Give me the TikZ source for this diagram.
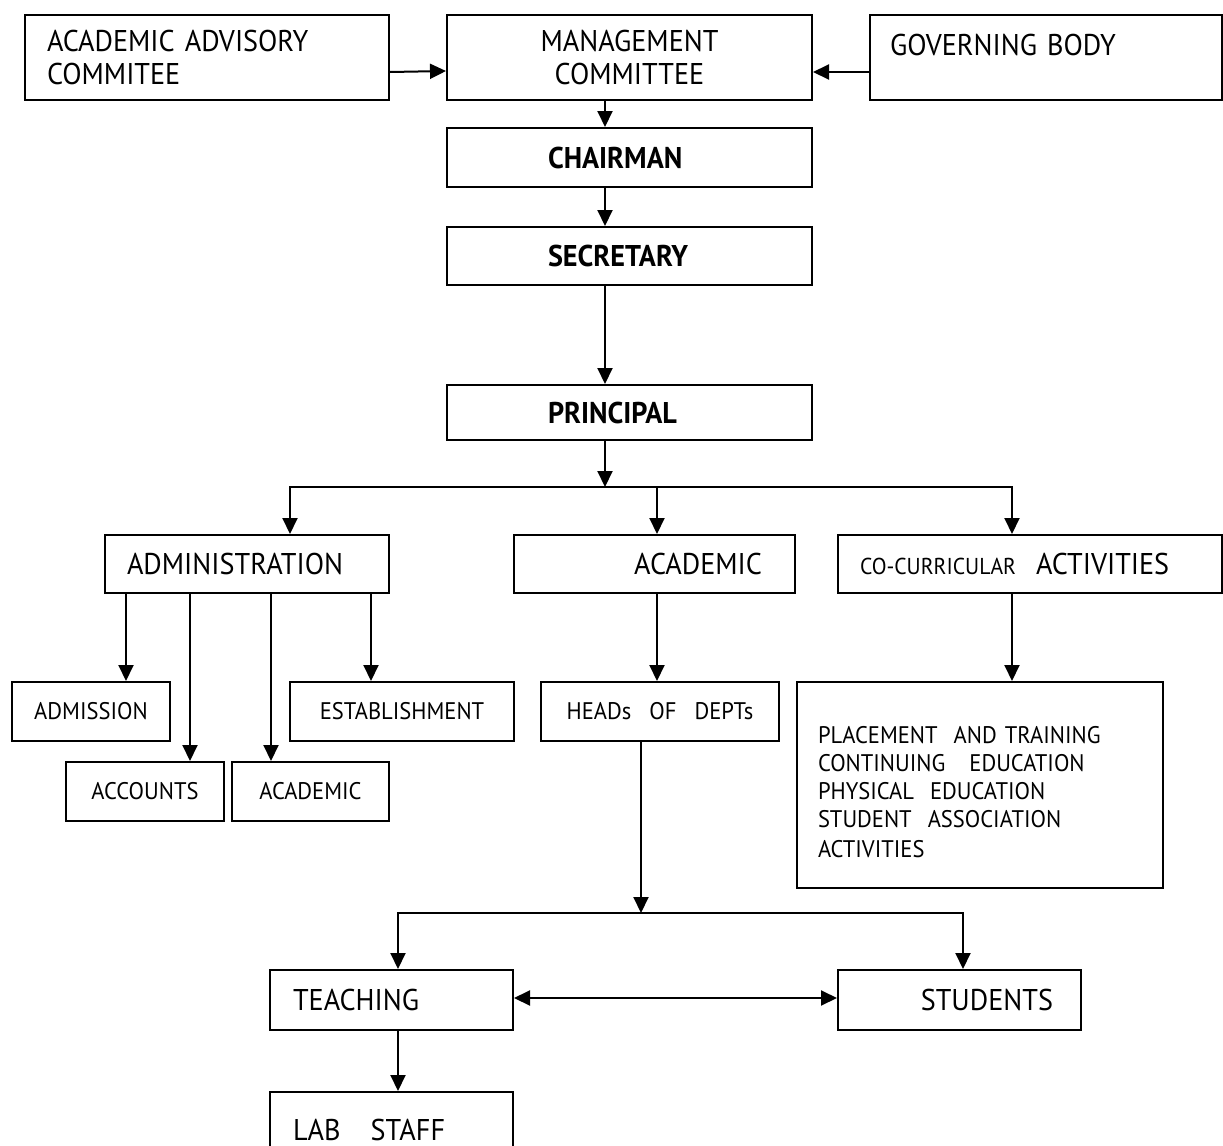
\documentclass[tikz,border=0pt]{standalone}
\usepackage{fontspec}
\setmainfont{PT Sans}[FakeStretch=0.94]
\usetikzlibrary{arrows.meta}

\begin{document}
\begin{tikzpicture}[x=0.5pt,y=-0.5pt]
\tikzset{
	box/.style={draw=black, line width=1pt, inner xsep=0pt, inner ysep=0pt, font=\fontsize{15}{16.5}\selectfont},
	bbox/.style={box, minimum width=182.5pt, inner xsep=50.5pt, text width=81.5pt, align=left, font=\fontsize{15}{16.5}\selectfont\bfseries},
	sbox/.style={box, align=center, font=\fontsize{12}{14}\selectfont},
	arr/.style={line width=1pt, -{Triangle[length=8pt,width=7.5pt]}},
	dbl/.style={line width=1pt, {Triangle[length=8pt,width=7.5pt]}-{Triangle[length=8pt,width=7.5pt]}}
}
\useasboundingbox (0,0) rectangle (1223,1146);

% top row
\node[box, minimum width=182pt, minimum height=42.5pt, inner xsep=11pt, text width=160pt, align=left] (adv) at (207,57.5) {ACADEMIC ADVISORY\\COMMITEE};
\node[box, minimum width=182.5pt, minimum height=42.5pt, align=center] (mgmt) at (629.5,57.5) {MANAGEMENT\\COMMITTEE};
\node[box, minimum width=176pt, minimum height=42.5pt, inner xsep=10pt, text width=156pt, align=left, text depth=12.5pt] (gov) at (1046,57.5) {GOVERNING BODY};

% chairman -- principal
\node[bbox, minimum height=29.5pt] (chair) at (629.5,157.5) {CHAIRMAN};
\node[bbox, minimum height=29pt] (sec) at (629.5,256) {SECRETARY};
\node[bbox, minimum height=27.5pt] (prin) at (629.5,412.5) {PRINCIPAL};

% second level
\node[box, minimum width=142pt, minimum height=29pt, inner xsep=11pt, text width=120pt, align=left] (admin) at (247,564) {ADMINISTRATION};
\node[box, minimum width=140.5pt, minimum height=29pt, inner xsep=16.5pt, text width=107.5pt, align=right] (acad) at (654.5,564) {ACADEMIC};
\node[box, minimum width=192pt, minimum height=29pt, inner xsep=11pt, text width=170pt, align=left] (cocur) at (1030,564) {{\fontsize{11.5}{14}\selectfont CO-CURRICULAR}\ \ ACTIVITIES};

% administration
\node[sbox, minimum width=79pt, minimum height=29.5pt] (admission) at (91,711.5) {ADMISSION};
\node[sbox, minimum width=112pt, minimum height=29.5pt] (estab) at (402,711.5) {ESTABLISHMENT};
\node[sbox, minimum width=79pt, minimum height=29.5pt] (accounts) at (145,791.5) {ACCOUNTS};
\node[sbox, minimum width=78.5pt, minimum height=29.5pt] (acsmall) at (310.5,791.5) {ACADEMIC};

% academic / co-curricular
\node[sbox, minimum width=119pt, minimum height=29.5pt] (heads) at (660,711.5) {HEADs\ \ \ OF\ \ \ DEPTs};
\node[sbox, minimum width=183pt, minimum height=103pt, inner xsep=10.5pt, text width=162pt, align=left] (place) at (980,785) {\rule{0pt}{16pt}PLACEMENT\ \ AND TRAINING\\CONTINUING\ \ \ EDUCATION\\PHYSICAL\ \ EDUCATION\\STUDENT\ \ ASSOCIATION\\[1pt]ACTIVITIES};

% teaching, students
\node[box, minimum width=121.5pt, minimum height=30pt, inner xsep=11.5pt, text width=98.5pt, align=left] (teach) at (391.5,1000) {TEACHING};
\node[box, minimum width=121.5pt, minimum height=30pt, inner xsep=14pt, text width=93.5pt, align=right] (stud) at (959.5,1000) {STUDENTS};
\node[box, minimum width=121.5pt, minimum height=38pt, inner xsep=11.5pt, text width=98.5pt, align=left] (lab) at (391.5,1130) {LAB\ \ \ STAFF};

% branch points
\coordinate (sp) at (605,0);
\coordinate (j1) at (605,487);
\coordinate (b1l) at (290,487);
\coordinate (b1m) at (657,487);
\coordinate (b1r) at (1012,487);
\coordinate (j2) at (641,913);
\coordinate (b2l) at (398,913);
\coordinate (b2r) at (963,913);

% top arrows
\draw[arr] (adv.east |- 0,72) -- (mgmt.west |- 0,71);
\draw[arr] (gov.west |- 0,72) -- (mgmt.east |- 0,72);
\draw[arr] (mgmt.south -| sp) -- (chair.north -| sp);
\draw[arr] (chair.south -| sp) -- (sec.north -| sp);
\draw[arr] (sec.south -| sp) -- (prin.north -| sp);
\draw[arr] (prin.south -| sp) -- (j1);

% principal --> branches
\draw[arr] (j1) -| (admin.north -| b1l);
\draw[arr] (j1) -| (cocur.north -| b1r);
\draw[arr] (b1m) -- (acad.north -| b1m);

% administration --> sections
\draw[arr] (admin.south -| 126,0) -- (admission.north -| 126,0);
\draw[arr] (admin.south -| 190,0) -- (accounts.north -| 190,0);
\draw[arr] (admin.south -| 271,0) -- (acsmall.north -| 271,0);
\draw[arr] (admin.south -| 371,0) -- (estab.north -| 371,0);

% academic, co-curricular
\draw[arr] (acad.south -| b1m) -- (heads.north -| b1m);
\draw[arr] (cocur.south -| b1r) -- (place.north -| b1r);

% heads --> teaching / students
\draw[arr] (heads.south -| j2) -- (j2);
\draw[arr] (j2) -| (teach.north -| b2l);
\draw[arr] (j2) -| (stud.north -| b2r);
\draw[dbl] (teach.east |- 0,998) -- (stud.west |- 0,998);
\draw[arr] (teach.south -| b2l) -- (lab.north -| b2l);

\end{tikzpicture}
\end{document}
